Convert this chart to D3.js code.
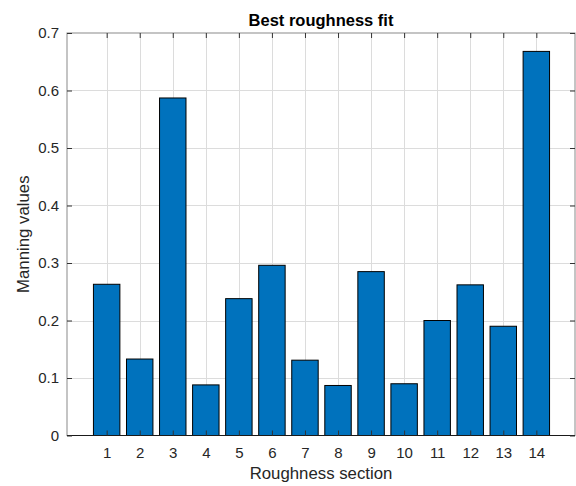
<!DOCTYPE html>
<html>
<head>
<meta charset="utf-8">
<script src="https://cdn.jsdelivr.net/npm/d3@7"></script>
<style>
  html, body { margin: 0; padding: 0; background: #fff; }
  svg { display: block; font-family: "Liberation Sans", Arial, sans-serif; }
</style>
</head>
<body>
<svg id="chart" width="576" height="486"></svg>
<script>
// Roughness sections and their best-fit Manning values
const sections = [1, 2, 3, 4, 5, 6, 7, 8, 9, 10, 11, 12, 13, 14];
const manning = [0.263, 0.133, 0.587, 0.088, 0.238, 0.296, 0.131, 0.087, 0.285, 0.090, 0.200, 0.262, 0.190, 0.668];
const yTicks = [0, 0.1, 0.2, 0.3, 0.4, 0.5, 0.6, 0.7];
const xTicks = sections;

const svg = d3.select("#chart");
const plotL = 67, plotR = 575, plotT = 33, plotB = 435.5;

const x = d3.scaleLinear().domain([-0.2, 15.17]).range([plotL, plotR]);
const y = d3.scaleLinear().domain([0, 0.7]).range([plotB, plotT]);
const barW = x(0.8) - x(0);

// grid
const grid = svg.append("g").attr("stroke", "#dcdcdc").attr("stroke-width", 1);
grid.selectAll("line.v").data(xTicks).join("line")
  .attr("x1", d => Math.round(x(d)) + 0.5).attr("x2", d => Math.round(x(d)) + 0.5)
  .attr("y1", plotT).attr("y2", plotB);
grid.selectAll("line.h").data(yTicks.filter(d => d > 0 && d < 0.7)).join("line")
  .attr("y1", d => Math.round(y(d)) + 0.5).attr("y2", d => Math.round(y(d)) + 0.5)
  .attr("x1", plotL).attr("x2", plotR);

// bars
svg.append("g").selectAll("rect").data(sections).join("rect")
  .attr("x", (d) => x(d) - barW / 2)
  .attr("width", barW)
  .attr("y", (d, i) => y(manning[i]))
  .attr("height", (d, i) => y(0) - y(manning[i]))
  .attr("fill", "#0072BD")
  .attr("stroke", "#000")
  .attr("stroke-width", 1);

// axes box
const axG = svg.append("g");
axG.append("rect")
  .attr("x", plotL).attr("y", plotT)
  .attr("width", plotR - plotL).attr("height", plotB - plotT)
  .attr("fill", "none").attr("stroke", "#8a8a8a").attr("stroke-width", 1);
// baseline
axG.append("line").attr("x1", plotL).attr("x2", plotR)
  .attr("y1", y(0)).attr("y2", y(0)).attr("stroke", "#1a1a1a").attr("stroke-width", 1);

const tickLen = 5;
const ax = d3.axisBottom(x).tickValues(xTicks).tickSizeInner(-tickLen).tickSizeOuter(0).tickPadding(11.5).tickFormat(d3.format("d"));
const gx = svg.append("g").attr("transform", `translate(0,${plotB})`).call(ax);
const gxTop = svg.append("g").attr("transform", `translate(0,${plotT})`)
  .call(d3.axisTop(x).tickValues(xTicks).tickSizeInner(-tickLen).tickSizeOuter(0).tickFormat(""));
const ay = d3.axisLeft(y).tickValues(yTicks).tickSizeInner(-tickLen).tickSizeOuter(0).tickPadding(8)
  .tickFormat(d => d === 0 ? "0" : d3.format(".1f")(d));
const gy = svg.append("g").attr("transform", `translate(${plotL},0)`).call(ay);
const gyR = svg.append("g").attr("transform", `translate(${plotR},0)`)
  .call(d3.axisRight(y).tickValues(yTicks).tickSizeInner(-tickLen).tickSizeOuter(0).tickFormat(""));

[gx, gxTop, gy, gyR].forEach(g => {
  g.select(".domain").remove();
  g.selectAll(".tick line").attr("stroke", "#333");
  g.selectAll(".tick text").attr("fill", "#262626")
    .style("font-family", "'Liberation Sans', Arial, sans-serif").style("font-size", "15px");
});

// title and labels
svg.append("text").attr("x", (plotL + plotR) / 2).attr("y", 25.5)
  .attr("text-anchor", "middle").attr("font-weight", "bold").attr("font-size", "16.5px")
  .attr("fill", "#000").text("Best roughness fit");
svg.append("text").attr("x", (plotL + plotR) / 2).attr("y", 479)
  .attr("text-anchor", "middle").attr("font-size", "16.8px")
  .attr("fill", "#262626").text("Roughness section");
svg.append("text").attr("transform", `translate(28.5,${(plotT + plotB) / 2}) rotate(-90)`)
  .attr("text-anchor", "middle").attr("font-size", "16.8px")
  .attr("fill", "#262626").text("Manning values");
</script>
</body>
</html>
